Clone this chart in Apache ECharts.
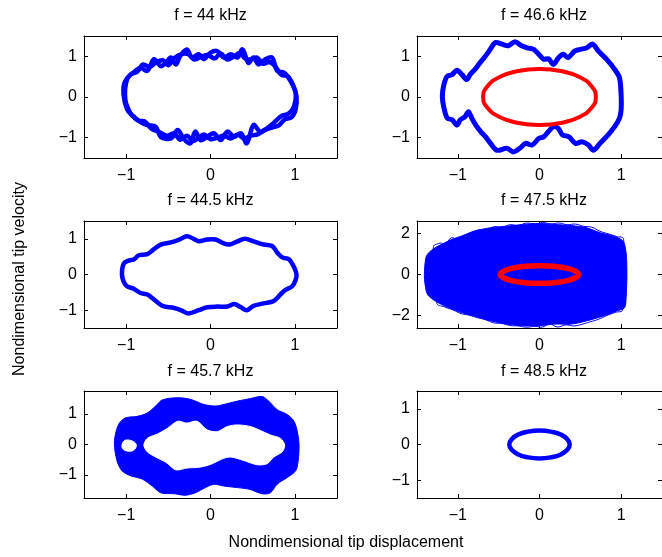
<!DOCTYPE html>
<html>
<head>
<meta charset="utf-8">
<script src="https://cdn.jsdelivr.net/npm/echarts@6/dist/echarts.min.js"></script>
<style>
  html, body { margin: 0; padding: 0; background: #fff; }
  #chart { width: 662px; height: 557px; }
</style>
</head>
<body>
<div id="chart"></div>
<script>
// ---- data: phase portraits (tip displacement, tip velocity), panel order row by row ----
const panelTitles = ['f = 44 kHz', 'f = 46.6 kHz', 'f = 44.5 kHz', 'f = 47.5 kHz', 'f = 45.7 kHz', 'f = 48.5 kHz'];
const unitTicks = [-1, 0, 1];
const wideTicks = [-2, 0, 2];
const xLimit = 1.5;
const yLimits = [1.5, 1.5, 1.5, 2.6, 1.75, 1.5];
const yTickSets = [unitTicks, unitTicks, unitTicks, wideTicks, unitTicks, unitTicks];

// 44 kHz: two interleaved wobbly strands
const orbit44a = [[-0.99,0.43],[-0.89,0.64],[-0.83,0.72],[-0.75,0.64],[-0.67,0.93],[-0.59,0.76],[-0.53,0.84],[-0.47,0.97],[-0.41,0.80],[-0.36,1.01],[-0.28,1.17],[-0.22,0.97],[-0.14,1.05],[-0.08,0.93],[0.00,1.09],[0.08,1.13],[0.16,0.97],[0.24,1.05],[0.32,0.97],[0.38,1.17],[0.45,0.84],[0.51,0.97],[0.57,0.80],[0.65,0.93],[0.73,0.97],[0.79,0.64],[0.87,0.60],[0.95,0.39],[1.01,0.10],
  [0.99,-0.23],[0.93,-0.40],[0.83,-0.48],[0.75,-0.64],[0.67,-0.77],[0.59,-0.85],[0.51,-0.69],[0.43,-1.14],[0.36,-0.89],[0.28,-0.98],[0.20,-0.85],[0.12,-1.06],[0.04,-0.89],[-0.04,-0.98],[-0.12,-1.06],[-0.18,-0.85],[-0.24,-1.14],[-0.32,-1.02],[-0.39,-0.81],[-0.47,-1.02],[-0.59,-0.98],[-0.65,-0.73],[-0.75,-0.69],[-0.81,-0.64],[-0.89,-0.52],[-0.95,-0.40],[-1.01,-0.07]];
const orbit44b = [[-1.02,0.35],[-0.95,0.55],[-0.87,0.62],[-0.80,0.80],[-0.72,0.74],[-0.64,0.86],[-0.56,0.90],[-0.50,0.78],[-0.43,0.96],[-0.33,1.06],[-0.26,1.05],[-0.19,0.92],[-0.10,1.00],[-0.03,1.03],[0.05,0.95],[0.12,1.07],[0.20,0.92],[0.28,1.00],[0.35,1.08],[0.41,0.95],[0.48,0.92],[0.55,0.97],[0.62,0.82],[0.70,0.86],[0.77,0.75],[0.84,0.55],[0.92,0.50],[0.98,0.28],[1.02,0.00],
  [1.01,-0.30],[0.96,-0.50],[0.88,-0.55],[0.81,-0.70],[0.73,-0.75],[0.64,-0.82],[0.56,-0.92],[0.48,-0.95],[0.40,-1.02],[0.32,-0.92],[0.24,-1.02],[0.16,-0.95],[0.08,-1.00],[0.00,-1.04],[-0.08,-0.92],[-0.15,-1.02],[-0.21,-1.08],[-0.28,-0.95],[-0.36,-1.05],[-0.43,-0.90],[-0.52,-0.95],[-0.62,-0.85],[-0.70,-0.78],[-0.78,-0.60],[-0.86,-0.58],[-0.93,-0.45],[-0.99,-0.30],[-1.03,0.05]];

// 46.6 kHz: large-amplitude orbit and small-amplitude orbit
const orbit466Large = [[-1.19,0.02],[-1.17,0.31],[-1.13,0.51],[-1.07,0.55],[-1.01,0.66],[-0.95,0.55],[-0.89,0.43],[-0.85,0.55],[-0.79,0.68],[-0.73,0.84],[-0.68,0.96],[-0.62,1.12],[-0.54,1.34],[-0.46,1.30],[-0.38,1.26],[-0.30,1.36],[-0.22,1.26],[-0.15,1.21],[-0.07,1.17],[-0.01,1.05],[0.05,0.93],[0.11,0.94],[0.17,0.80],[0.23,0.96],[0.29,1.05],[0.35,0.97],[0.43,1.13],[0.50,1.17],[0.58,1.21],[0.65,1.30],[0.72,1.13],[0.82,0.93],[0.92,0.68],[0.98,0.47],[1.00,0.02],
  [1.00,-0.31],[0.98,-0.52],[0.92,-0.73],[0.84,-0.93],[0.74,-1.14],[0.66,-1.31],[0.60,-1.18],[0.52,-1.10],[0.44,-1.14],[0.36,-0.98],[0.28,-0.93],[0.23,-0.77],[0.17,-0.73],[0.11,-0.85],[0.05,-0.98],[-0.01,-1.02],[-0.09,-1.18],[-0.17,-1.14],[-0.24,-1.26],[-0.32,-1.35],[-0.40,-1.26],[-0.52,-1.31],[-0.60,-1.14],[-0.66,-0.98],[-0.72,-0.85],[-0.78,-0.69],[-0.83,-0.52],[-0.87,-0.36],[-0.91,-0.48],[-0.97,-0.56],[-1.01,-0.69],[-1.07,-0.56],[-1.13,-0.52],[-1.17,-0.27]];
const orbit466Small = [[0.69,0],[0.64,0.26],[0.49,0.49],[0.26,0.64],[0,0.69],[-0.26,0.64],[-0.49,0.49],[-0.64,0.26],[-0.69,0],[-0.64,-0.26],[-0.49,-0.49],[-0.26,-0.64],[0,-0.69],[0.26,-0.64],[0.49,-0.49],[0.64,-0.26]];

// 44.5 kHz: single periodic orbit
const orbit445 = [[-1.05,0.00],[-1.03,0.30],[-0.97,0.39],[-0.91,0.42],[-0.85,0.54],[-0.75,0.57],[-0.67,0.71],[-0.59,0.84],[-0.47,0.90],[-0.37,0.98],[-0.28,1.07],[-0.20,1.00],[-0.14,0.93],[-0.04,0.98],[0.06,0.98],[0.14,0.89],[0.22,0.84],[0.32,0.93],[0.41,1.00],[0.51,0.93],[0.63,0.84],[0.73,0.80],[0.79,0.62],[0.85,0.48],[0.93,0.43],[0.99,0.21],[1.02,0.00],
  [1.01,-0.15],[0.97,-0.33],[0.89,-0.43],[0.83,-0.56],[0.75,-0.74],[0.63,-0.81],[0.51,-0.88],[0.43,-1.00],[0.36,-0.92],[0.28,-0.83],[0.20,-0.90],[0.08,-0.90],[-0.04,-0.92],[-0.14,-1.00],[-0.26,-1.09],[-0.34,-1.01],[-0.43,-0.94],[-0.57,-0.88],[-0.67,-0.70],[-0.75,-0.56],[-0.83,-0.52],[-0.91,-0.40],[-0.99,-0.33],[-1.03,-0.20]];

// 47.5 kHz: envelope of the chaotic attractor, its scalloped fringe, and small-amplitude orbit
const chaos475Hull = [[-1.41,0.00],[-1.39,0.84],[-1.35,1.08],[-1.27,1.32],[-1.19,1.48],[-1.07,1.71],[-0.95,1.87],[-0.80,2.11],[-0.60,2.27],[-0.40,2.35],[-0.20,2.43],[0.00,2.48],[0.19,2.43],[0.39,2.38],[0.58,2.27],[0.74,2.03],[0.90,1.87],[1.02,1.63],[1.06,1.08],[1.07,0.00],
  [1.06,-1.14],[1.04,-1.62],[0.94,-1.78],[0.78,-2.02],[0.58,-2.25],[0.39,-2.41],[0.19,-2.41],[0.00,-2.49],[-0.20,-2.49],[-0.40,-2.41],[-0.60,-2.25],[-0.80,-2.02],[-0.95,-1.86],[-1.11,-1.62],[-1.27,-1.30],[-1.37,-0.98],[-1.40,-0.51]];
const chaos475Fringe = [[-1.30,1.30],[-1.22,1.52],[-1.15,1.50],[-1.08,1.78],[-1.00,1.72],[-0.92,1.92],[-0.84,1.90],[-0.76,2.15],[-0.66,2.12],[-0.56,2.32],[-0.46,2.28],[-0.36,2.42],[-0.26,2.38],[-0.16,2.50],[-0.06,2.45],[0.04,2.52],[0.14,2.46],[0.24,2.50],[0.34,2.42],[0.44,2.45],[0.54,2.34],[0.64,2.30],[0.74,2.10],[0.84,1.98],[0.94,1.85],[1.03,1.70],
  [1.02,-1.68],[0.92,-1.85],[0.82,-2.00],[0.72,-2.18],[0.62,-2.30],[0.52,-2.42],[0.42,-2.50],[0.32,-2.45],[0.22,-2.55],[0.12,-2.40],[0.04,-2.55],[-0.06,-2.52],[-0.16,-2.56],[-0.26,-2.50],[-0.36,-2.48],[-0.46,-2.38],[-0.56,-2.35],[-0.66,-2.20],[-0.76,-2.10],[-0.86,-1.98],[-0.96,-1.90],[-1.06,-1.72],[-1.16,-1.58],[-1.26,-1.36]];
const orbit475Small = [[0.48,0],[0.44,0.16],[0.34,0.30],[0.18,0.40],[0,0.43],[-0.18,0.40],[-0.34,0.30],[-0.44,0.16],[-0.48,0],[-0.44,-0.16],[-0.34,-0.30],[-0.18,-0.40],[0,-0.43],[0.18,-0.40],[0.34,-0.30],[0.44,-0.16]];

// 45.7 kHz: band swept by the quasi-periodic orbit (outer edge, inner edges)
const band457Outer = [[-1.14,0.03],[-1.12,0.42],[-1.08,0.70],[-1.01,0.87],[-0.87,0.92],[-0.75,1.03],[-0.65,1.26],[-0.57,1.46],[-0.39,1.53],[-0.24,1.48],[-0.08,1.31],[0.06,1.26],[0.16,1.31],[0.32,1.42],[0.47,1.50],[0.61,1.57],[0.69,1.42],[0.79,1.14],[0.91,0.98],[0.99,0.76],[1.03,0.42],[1.05,0.00],
  [1.04,-0.52],[1.01,-0.86],[0.91,-1.08],[0.79,-1.30],[0.71,-1.58],[0.61,-1.61],[0.47,-1.47],[0.32,-1.41],[0.16,-1.36],[0.04,-1.30],[-0.06,-1.41],[-0.18,-1.58],[-0.30,-1.66],[-0.43,-1.61],[-0.59,-1.58],[-0.69,-1.36],[-0.81,-1.13],[-0.95,-1.02],[-1.05,-0.86],[-1.11,-0.52]];
const band457Inner = [[-0.79,-0.02],[-0.75,0.20],[-0.63,0.34],[-0.51,0.53],[-0.39,0.76],[-0.28,0.70],[-0.16,0.76],[-0.04,0.48],[0.08,0.42],[0.20,0.59],[0.32,0.64],[0.47,0.59],[0.59,0.46],[0.71,0.31],[0.83,0.20],[0.88,-0.02],
  [0.85,-0.24],[0.75,-0.41],[0.67,-0.63],[0.55,-0.66],[0.39,-0.52],[0.24,-0.41],[0.14,-0.47],[0.02,-0.63],[-0.12,-0.74],[-0.28,-0.77],[-0.41,-0.83],[-0.53,-0.58],[-0.65,-0.41],[-0.75,-0.24]];
const band457Gap = [[-1.05,-0.02],[-1.01,0.14],[-0.91,0.09],[-0.88,-0.06],[-0.93,-0.21],[-1.03,-0.17]];

// 48.5 kHz: small-amplitude orbit only
const orbit485 = [[0.37,0],[0.34,0.15],[0.26,0.28],[0.14,0.36],[0,0.39],[-0.14,0.36],[-0.26,0.28],[-0.34,0.15],[-0.37,0],[-0.34,-0.15],[-0.26,-0.28],[-0.14,-0.36],[0,-0.39],[0.14,-0.36],[0.26,-0.28],[0.34,-0.15]];

// ---- layout ----
const FONT = '"Liberation Sans", Arial, Helvetica, sans-serif';
const BLUE = '#0000ff', RED = '#ff0000';
const colLeft = [84, 417], colWidth = [253, 254];
const rowTop = [36, 221, 391], rowHeight = [122, 107, 107];
const titleY = [16, 201, 372];

const fmt = v => (v < 0 ? '\u2212' : '') + Math.abs(v);

const grids = [], xAxes = [], yAxes = [], series = [], graphics = [];

for (let i = 0; i < 6; i++) {
  const col = i % 2, row = Math.floor(i / 2);
  grids.push({ left: colLeft[col], top: rowTop[row], width: colWidth[col], height: rowHeight[row], show: false });
  ['bottom', 'top'].forEach((pos, k) => {
    xAxes.push({
      gridIndex: i, type: 'value', position: pos, min: -xLimit, max: xLimit,
      axisLine: { show: true, onZero: false, lineStyle: { color: '#000', width: 1 } },
      axisTick: { show: true, inside: true, length: 4, customValues: unitTicks, lineStyle: { color: '#000', width: 1 } },
      axisLabel: { show: k === 0, customValues: unitTicks, formatter: fmt, color: '#000', fontSize: 16, fontFamily: FONT, margin: 10 },
      splitLine: { show: false }
    });
  });
  ['left', 'right'].forEach((pos, k) => {
    yAxes.push({
      gridIndex: i, type: 'value', position: pos, min: -yLimits[i], max: yLimits[i],
      axisLine: { show: true, onZero: false, lineStyle: { color: '#000', width: 1 } },
      axisTick: { show: true, inside: true, length: 4, customValues: yTickSets[i], lineStyle: { color: '#000', width: 1 } },
      axisLabel: { show: k === 0, customValues: yTickSets[i], formatter: fmt, color: '#000', fontSize: 16, fontFamily: FONT, margin: 7 },
      splitLine: { show: false }
    });
  });
  graphics.push({
    type: 'text', x: colLeft[col] + colWidth[col] / 2, y: titleY[row],
    style: { text: panelTitles[i], fill: '#000', font: '16px ' + FONT, textAlign: 'center', textVerticalAlign: 'middle' }
  });
}

// closed curve / filled region drawn through the panel's axes
function curve(panel, pts, color, width, smooth, filled) {
  return {
    type: 'custom', xAxisIndex: 2 * panel, yAxisIndex: 2 * panel,
    data: [[0, 0]], silent: true, clip: true,
    renderItem: (params, api) => ({
      type: 'polygon',
      shape: { points: pts.map(p => api.coord(p)), smooth: smooth },
      style: filled
        ? { fill: color, stroke: color, lineWidth: width, lineJoin: 'round' }
        : { fill: 'none', stroke: color, lineWidth: width, lineJoin: 'round' }
    })
  };
}

series.push(curve(0, orbit44a, BLUE, 4.5, 0.35, false));
series.push(curve(0, orbit44b, BLUE, 4.5, 0.35, false));
series.push(curve(1, orbit466Large, BLUE, 5, 0.3, false));
series.push(curve(1, orbit466Small, RED, 4, 0.5, false));
series.push(curve(2, orbit445, BLUE, 4.5, 0.35, false));
series.push(curve(3, chaos475Hull, BLUE, 1, 0.3, true));
series.push(curve(3, chaos475Fringe, BLUE, 1, 0.5, false));
series.push(curve(3, orbit475Small, RED, 5.5, 0.5, false));
series.push(curve(4, band457Outer, BLUE, 1, 0.3, true));
series.push(curve(4, band457Inner, '#ffffff', 1, 0.3, true));
series.push(curve(4, band457Gap, '#ffffff', 1, 0.4, true));
series.push(curve(5, orbit485, BLUE, 4.5, 0.5, false));

graphics.push({
  type: 'text', x: 346, y: 543,
  style: { text: 'Nondimensional tip displacement', fill: '#000', font: '16px ' + FONT, textAlign: 'center', textVerticalAlign: 'middle' }
});
graphics.push({
  type: 'text', x: 20, y: 279, rotation: Math.PI / 2,
  style: { text: 'Nondimensional tip velocity', fill: '#000', font: '16px ' + FONT, textAlign: 'center', textVerticalAlign: 'middle' }
});

const chart = echarts.init(document.getElementById('chart'), null, { renderer: 'canvas' });
chart.setOption({
  animation: false,
  backgroundColor: '#fff',
  grid: grids,
  xAxis: xAxes,
  yAxis: yAxes,
  series: series,
  graphic: graphics
});
</script>
</body>
</html>
